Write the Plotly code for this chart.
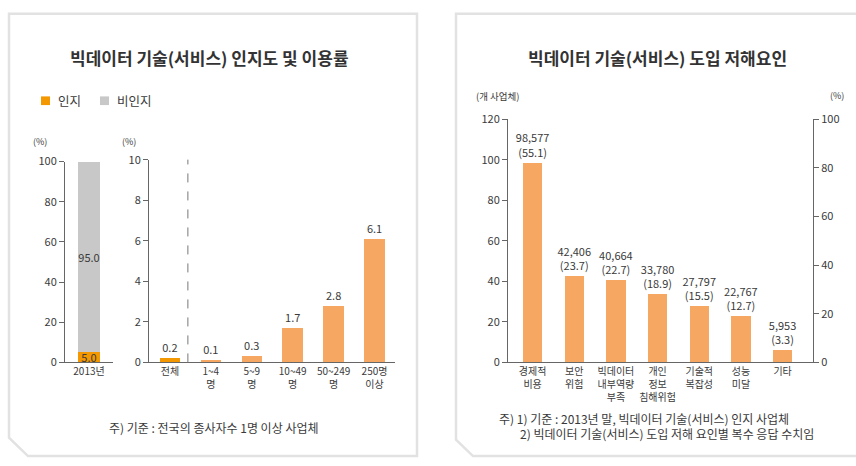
import plotly.graph_objects as go

W, H = 856, 466

# ---------------- data ----------------
aware_year = ["2013년"]
aware_yes = [5.0]
aware_no = [95.0]
legend_names = ["인지", "비인지"]

usage_cats = ["전체", "1~4<br>명", "5~9<br>명", "10~49<br>명", "50~249<br>명", "250명<br>이상"]
usage_vals = [0.2, 0.1, 0.3, 1.7, 2.8, 6.1]

barrier_cats = ["경제적<br>비용", "보안<br>위험", "빅데이터<br>내부역량<br>부족",
                "개인<br>정보<br>침해위험", "기술적<br>복잡성", "성능<br>미달", "기타"]
barrier_counts = [98577, 42406, 40664, 33780, 27797, 22767, 5953]
barrier_pcts = [55.1, 23.7, 22.7, 18.9, 15.5, 12.7, 3.3]

left_ticks = [0, 20, 40, 60, 80, 100]
mid_ticks = [0, 2, 4, 6, 8, 10]
right_ticks = [0, 20, 40, 60, 80, 100, 120]
pct_ticks = [0, 20, 40, 60, 80, 100]

# ---------------- style ----------------
FONT = "Noto Sans CJK KR"
DARK_OR = "#f39800"
LIGHT_OR = "#f6a862"
GREY = "#c8c8c8"
TXT = "#3a3a3a"
AX = "#666666"


def fx(px):
    return px / W


def fy(py):
    return 1 - py / H


fig = go.Figure()

fig.add_trace(go.Bar(
    x=aware_year, y=aware_yes, name=legend_names[0], marker=dict(color=DARK_OR, line=dict(width=0)),
    text=[f"{v:.1f}" for v in aware_yes], textposition="inside", insidetextanchor="middle",
    constraintext="none", textangle=0, textfont=dict(size=11, color=TXT),
    width=0.44, xaxis="x", yaxis="y", hoverinfo="skip", showlegend=False))
fig.add_trace(go.Bar(
    x=aware_year, y=aware_no, name=legend_names[1], marker=dict(color=GREY, line=dict(width=0)),
    text=[f"{v:.1f}" for v in aware_no], textposition="inside", insidetextanchor="middle",
    constraintext="none", textangle=0, textfont=dict(size=11, color=TXT),
    width=0.44, xaxis="x", yaxis="y", hoverinfo="skip", showlegend=False))

fig.add_trace(go.Bar(
    x=usage_cats, y=usage_vals, showlegend=False,
    marker=dict(color=[DARK_OR] + [LIGHT_OR] * (len(usage_vals) - 1), line=dict(width=0)),
    text=[f"{v:.1f}" for v in usage_vals], textposition="outside", cliponaxis=False,
    constraintext="none", textfont=dict(size=11, color=TXT),
    width=0.5, xaxis="x2", yaxis="y2", hoverinfo="skip"))

fig.add_trace(go.Bar(
    x=barrier_cats, y=[c / 1000 for c in barrier_counts], showlegend=False,
    marker=dict(color=LIGHT_OR, line=dict(width=0)),
    text=[f"{c:,}<br>({p})" for c, p in zip(barrier_counts, barrier_pcts)],
    textposition="outside", cliponaxis=False, constraintext="none",
    textfont=dict(size=11, color=TXT),
    width=0.46, xaxis="x3", yaxis="y3", hoverinfo="skip"))

fig.add_trace(go.Scatter(
    x=barrier_cats, y=barrier_pcts, mode="markers", marker=dict(opacity=0),
    showlegend=False, xaxis="x3", yaxis="y4", hoverinfo="skip"))

axis_common = dict(showgrid=False, zeroline=False, showline=True, linecolor=AX, linewidth=1,
                   ticks="outside", ticklen=5, tickcolor=AX, tickwidth=1,
                   tickfont=dict(size=11, color=TXT, family=FONT), fixedrange=True)
cat_common = dict(showgrid=False, zeroline=False, showline=True, linecolor=AX, linewidth=1,
                  ticks="", tickfont=dict(size=10, color=TXT, family=FONT), fixedrange=True)

fig.update_layout(
    width=W, height=H, margin=dict(l=0, r=0, t=0, b=0),
    paper_bgcolor="white", plot_bgcolor="white",
    font=dict(family=FONT, color=TXT),
    barmode="stack", bargap=0.5,
    showlegend=False,
    xaxis=dict(cat_common, domain=[fx(65), fx(113)], range=[-0.5, 0.5], anchor="y"),
    yaxis=dict(axis_common, domain=[fy(366), fy(158)], range=[0, 100], tickvals=left_ticks,
               anchor="x"),
    xaxis2=dict(cat_common, domain=[fx(149), fx(395)], range=[-0.51, 5.5], anchor="y2"),
    yaxis2=dict(axis_common, domain=[fy(366), fy(156)], range=[0, 10], tickvals=mid_ticks,
                anchor="x2"),
    xaxis3=dict(cat_common, domain=[fx(508), fx(813)], range=[-0.59, 6.73], anchor="y3"),
    yaxis3=dict(axis_common, domain=[fy(366), fy(114)], range=[0, 120], tickvals=right_ticks,
                anchor="x3"),
    yaxis4=dict(axis_common, domain=[fy(366), fy(114)], range=[0, 100], tickvals=pct_ticks,
                overlaying="y3", side="right", anchor="x3"),
)

# panel frames with chamfered lower-left corner
def frame(x0, y0, x1, y1, cut):
    pts = [(x0, y0), (x1, y0), (x1, y1), (x0 + cut, y1), (x0, y1 - cut)]
    path = "M " + " L ".join(f"{fx(a):.5f},{fy(b):.5f}" for a, b in pts) + " Z"
    return dict(type="path", xref="paper", yref="paper", path=path,
                line=dict(color="#e2e2e2", width=2.5), layer="below")

fig.add_shape(frame(9, 5, 417, 463, 19))
fig.add_shape(frame(456, 5, 870, 463, 17))

# dashed divider between 전체 and size groups
fig.add_shape(type="line", xref="x2", yref="y2 domain", x0=0.44, x1=0.44, y0=0, y1=1,
              line=dict(color="#777777", width=1, dash="dash"))

# legend (swatches + labels)
legend_cols = [DARK_OR, GREY]
legend_x = [41, 100]
for name, col, lx in zip(legend_names, legend_cols, legend_x):
    fig.add_shape(type="rect", xref="paper", yref="paper", x0=fx(lx), x1=fx(lx + 9),
                  y0=fy(99.5), y1=fy(90.5), fillcolor=col, line=dict(width=0))
    fig.add_annotation(text=name, xref="paper", yref="paper", x=fx(lx + 15), y=fy(95),
                       xanchor="left", yanchor="middle", showarrow=False,
                       font=dict(size=12.5, color=TXT, family=FONT))


def note(text, x, y, size=11, anchor="center", color=TXT):
    fig.add_annotation(text=text, xref="paper", yref="paper", x=fx(x), y=fy(y),
                       xanchor=anchor, yanchor="middle", showarrow=False,
                       font=dict(size=size, color=color, family=FONT))


note("<b>빅데이터 기술(서비스) 인지도 및 이용률</b>", 209, 50, size=17, color="#333333")
note("<b>빅데이터 기술(서비스) 도입 저해요인</b>", 657, 50, size=17, color="#333333")
note("(%)", 40, 137, size=9)
note("(%)", 129, 137, size=9)
note("(개 사업체)", 498, 90, size=9.5)
note("(%)", 837, 90, size=9)
note("주) 기준 : 전국의 종사자수 1명 이상 사업체", 107, 433, size=12, anchor="left")
note("주) 1) 기준 : 2013년 말, 빅데이터 기술(서비스) 인지 사업체", 497, 424, size=12, anchor="left")
note("2) 빅데이터 기술(서비스) 도입 저해 요인별 복수 응답 수치임", 518, 440, size=12, anchor="left")

fig.write_html("out.html",
               post_script="document.body.style.margin='0';document.body.style.overflow='hidden';")
